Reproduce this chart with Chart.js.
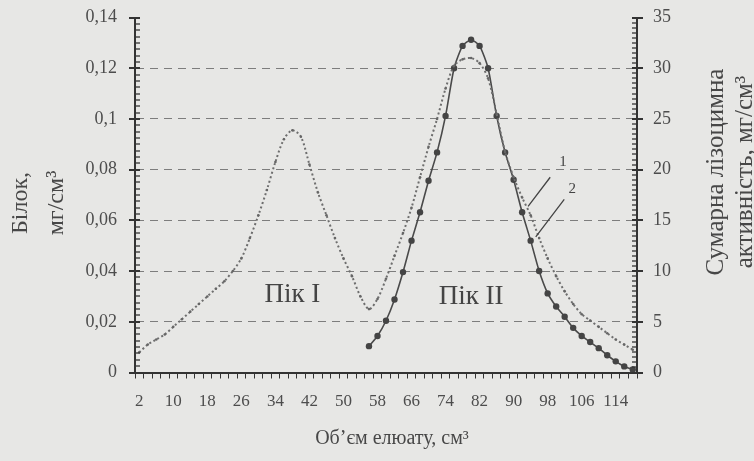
<!DOCTYPE html>
<html>
<head>
<meta charset="utf-8">
<script src="https://cdn.jsdelivr.net/npm/chart.js@4.4.0/dist/chart.umd.min.js"></script>
<style>
  html, body { margin: 0; padding: 0; background: #e7e7e5; }
  #wrap { width: 754px; height: 461px; position: relative; }
</style>
</head>
<body>
<div id="wrap"><canvas id="chart"></canvas></div>
<script>
// elution volume, cm3 (one fraction every 2 cm3)
const volumes = [
  2, 4, 6, 8, 10, 12, 14, 16, 18, 20, 22, 24, 26, 28, 30, 32, 34, 36, 38, 40,
  42, 44, 46, 48, 50, 52, 54, 56, 58, 60, 62, 64, 66, 68, 70, 72, 74, 76, 78, 80,
  82, 84, 86, 88, 90, 92, 94, 96, 98, 100, 102, 104, 106, 108, 110, 112, 114, 116, 118
];

// curve 1: protein, mg/cm3 (left axis)
const protein = [
  0.008, 0.011, 0.013, 0.015, 0.018, 0.021, 0.024, 0.027, 0.030, 0.033,
  0.036, 0.040, 0.045, 0.053, 0.062, 0.072, 0.083, 0.092, 0.0955, 0.093,
  0.082, 0.071, 0.062, 0.053, 0.045, 0.038, 0.030, 0.025, 0.029, 0.037,
  0.046, 0.055, 0.065, 0.077, 0.089, 0.100, 0.112, 0.121, 0.1235, 0.124,
  0.122, 0.116, 0.102, 0.087, 0.077, 0.069, 0.062, 0.053, 0.045, 0.038,
  0.032, 0.027, 0.023, 0.0205, 0.018, 0.0155, 0.013, 0.011, 0.009
];

// curve 2: total lysozyme activity (right axis), starts at 56 cm3
const lysozyme = [
  null, null, null, null, null, null, null, null, null, null,
  null, null, null, null, null, null, null, null, null, null,
  null, null, null, null, null, null, null, 2.6, 3.6, 5.1,
  7.2, 9.9, 13.0, 15.8, 18.9, 21.7, 25.3, 30.0, 32.2, 32.8,
  32.2, 30.0, 25.3, 21.7, 19.0, 15.8, 13.0, 10.0, 7.8, 6.5,
  5.5, 4.4, 3.6, 3.0, 2.4, 1.7, 1.1, 0.6, 0.3
];

const proteinMax = 0.14;
const proteinMajor = 0.02;
const activityMax = 35;
const activityMajor = 5;
const xLabelEvery = 4;

const isMajor = (v, step) => Math.abs(v / step - Math.round(v / step)) < 1e-6;
const AXIS = "#333";
const TEXT = "#4d4d4d";
const SERIF = "'Liberation Serif', 'DejaVu Serif', serif";

// y-axis tick marks: minor ones inside the plot, major ones crossing the axis
function drawYTicks(ctx, scale, edge, dir, major) {
  scale.ticks.forEach(t => {
    const py = Math.round(scale.getPixelForValue(t.value));
    const big = isMajor(t.value, major);
    ctx.lineWidth = big ? 2 : 1.3;
    ctx.beginPath();
    ctx.moveTo(edge - (big ? 6 : 0) * dir, py);
    ctx.lineTo(edge + 5 * dir, py);
    ctx.stroke();
  });
}

const annotate = {
  id: "annotate",
  afterDatasetsDraw(chart) {
    const { ctx, chartArea, scales: { x, y, y2 } } = chart;
    const px = ml => x.getPixelForValue((ml - volumes[0]) / 2);
    ctx.save();

    ctx.strokeStyle = AXIS;
    drawYTicks(ctx, y, chartArea.left, 1, proteinMajor);
    drawYTicks(ctx, y2, chartArea.right, -1, activityMajor);

    ctx.fillStyle = "#444";
    ctx.strokeStyle = "#444";
    ctx.textAlign = "center";
    ctx.textBaseline = "middle";

    ctx.font = "27px " + SERIF;
    ctx.fillText("Пік I", px(38), y.getPixelForValue(0.0305));
    ctx.fillText("Пік II", px(80), y.getPixelForValue(0.0300));

    ctx.font = "15px " + SERIF;
    ctx.fillText("1", px(101.6), y.getPixelForValue(0.083));
    ctx.fillText("2", px(103.8), y.getPixelForValue(0.0725));

    ctx.lineWidth = 1.3;
    ctx.beginPath();
    ctx.moveTo(px(98.6), y.getPixelForValue(0.077));
    ctx.lineTo(px(93.4), y.getPixelForValue(0.0655));
    ctx.moveTo(px(101.9), y.getPixelForValue(0.0683));
    ctx.lineTo(px(95.2), y.getPixelForValue(0.0535));
    ctx.stroke();

    // axis titles
    ctx.fillStyle = "#474747";
    ctx.textBaseline = "alphabetic";
    ctx.font = "24px " + SERIF;
    ctx.save();
    ctx.translate(chartArea.left - 108, 203);
    ctx.rotate(-Math.PI / 2);
    ctx.fillText("Білок,", 0, 0);
    ctx.fillText("мг/см³", 0, 36);
    ctx.restore();

    ctx.font = "25px " + SERIF;
    ctx.save();
    ctx.translate(chartArea.right + 86, 172);
    ctx.rotate(-Math.PI / 2);
    ctx.fillText("Сумарна лізоцимна", 0, 0);
    ctx.fillText("активність, мг/см³", 0, 29);
    ctx.restore();

    ctx.font = "20px " + SERIF;
    ctx.fillText("Об’єм елюату, см³", 392, 444);
    ctx.restore();
  }
};

const fitY = width => s => {
  s.width = width;
  s.paddingTop = 0;
  s.paddingBottom = 0;
};

new Chart(document.getElementById("chart"), {
  type: "line",
  data: {
    labels: volumes,
    datasets: [
      {
        label: "1",
        data: protein,
        yAxisID: "y",
        borderColor: "#6e6e6e",
        borderWidth: 2,
        borderDash: [2, 2.5],
        pointRadius: 1.3,
        pointBackgroundColor: "#666",
        pointBorderWidth: 0,
        tension: 0.3
      },
      {
        label: "2",
        data: lysozyme,
        yAxisID: "y2",
        borderColor: "#4a4a4a",
        borderWidth: 1.6,
        pointRadius: 3.2,
        pointBackgroundColor: "#444",
        pointBorderColor: "#444",
        pointBorderWidth: 0,
        tension: 0.2
      }
    ]
  },
  options: {
    responsive: true,
    maintainAspectRatio: false,
    animation: false,
    layout: { padding: { top: 17.5, left: 0, right: 0, bottom: 0 } },
    plugins: {
      legend: { display: false },
      tooltip: { enabled: false }
    },
    scales: {
      x: {
        type: "category",
        offset: true,
        afterFit: s => { s.height = 88.5; },
        border: { color: AXIS, width: 2 },
        grid: { offset: true, drawOnChartArea: false, tickLength: 6, tickColor: AXIS },
        ticks: {
          autoSkip: false,
          maxRotation: 0,
          minRotation: 0,
          padding: 13,
          color: TEXT,
          font: { family: SERIF, size: 17 },
          callback: function (v, i) {
            return i % xLabelEvery === 0 ? this.getLabelForValue(v) : "";
          }
        }
      },
      y: {
        type: "linear",
        position: "left",
        min: 0,
        max: proteinMax,
        afterFit: fitY(135),
        border: { color: AXIS, width: 2, dash: [8, 6] },
        grid: {
          drawTicks: false,
          color: c => (c.tick && isMajor(c.tick.value, proteinMajor) &&
            c.tick.value > 0 && c.tick.value < proteinMax - 1e-6) ? "#7d7d7d" : "rgba(0,0,0,0)"
        },
        ticks: {
          stepSize: 0.0025,
          maxTicksLimit: 200,
          autoSkip: false,
          padding: 18,
          color: TEXT,
          font: { family: SERIF, size: 18 },
          callback: v => isMajor(v, proteinMajor) ? String(+v.toFixed(2)).replace(".", ",") : ""
        }
      },
      y2: {
        type: "linear",
        position: "right",
        min: 0,
        max: activityMax,
        afterFit: fitY(117),
        border: { color: AXIS, width: 2 },
        grid: { drawOnChartArea: false, drawTicks: false },
        ticks: {
          stepSize: 0.5,
          maxTicksLimit: 200,
          autoSkip: false,
          padding: 16,
          color: TEXT,
          font: { family: SERIF, size: 18 },
          callback: v => isMajor(v, activityMajor) ? String(Math.round(v)) : ""
        }
      }
    }
  },
  plugins: [annotate]
});
</script>
</body>
</html>
